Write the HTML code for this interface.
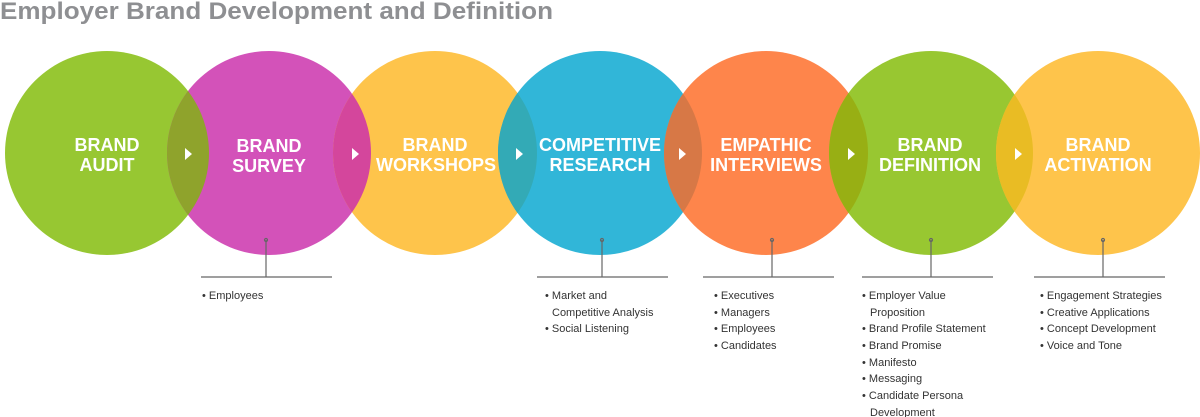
<!DOCTYPE html>
<html><head><meta charset="utf-8"><style>
html,body{margin:0;padding:0;background:#fff;width:1200px;height:417px;overflow:hidden}
svg{display:block}
.h{font-family:"Liberation Sans",sans-serif;font-weight:bold;font-size:18px;fill:#fff;text-anchor:middle}
.b{font-family:"Liberation Sans",sans-serif;font-size:11px;fill:#333}
</style></head><body>
<svg width="1200" height="417" viewBox="0 0 1200 417" xmlns="http://www.w3.org/2000/svg">
<text x="0" y="19" font-family="Liberation Sans,sans-serif" font-weight="bold" font-size="24" fill="#8e8f92" textLength="553" lengthAdjust="spacingAndGlyphs">Employer Brand Development and Definition</text>
<defs>
<clipPath id="c1"><circle cx="107" cy="153" r="102"/></clipPath>
<clipPath id="c2"><circle cx="269" cy="153" r="102"/></clipPath>
<clipPath id="c3"><circle cx="435" cy="153" r="102"/></clipPath>
<clipPath id="c4"><circle cx="600" cy="153" r="102"/></clipPath>
<clipPath id="c5"><circle cx="766" cy="153" r="102"/></clipPath>
<clipPath id="c6"><circle cx="931" cy="153" r="102"/></clipPath>
</defs>
<circle cx="107" cy="153" r="102" fill="#97c732"/>
<circle cx="269" cy="153" r="102" fill="#d352b9"/>
<circle cx="435" cy="153" r="102" fill="#fec44b"/>
<circle cx="600" cy="153" r="102" fill="#31b6d8"/>
<circle cx="766" cy="153" r="102" fill="#fe854b"/>
<circle cx="931" cy="153" r="102" fill="#98c731"/>
<circle cx="1098" cy="153" r="102" fill="#fec44b"/>
<circle cx="269" cy="153" r="102" fill="#8fa32c" clip-path="url(#c1)"/>
<circle cx="435" cy="153" r="102" fill="#d4469c" clip-path="url(#c2)"/>
<circle cx="600" cy="153" r="102" fill="#33aab6" clip-path="url(#c3)"/>
<circle cx="766" cy="153" r="102" fill="#d77846" clip-path="url(#c4)"/>
<circle cx="931" cy="153" r="102" fill="#98af14" clip-path="url(#c5)"/>
<circle cx="1098" cy="153" r="102" fill="#e9bc24" clip-path="url(#c6)"/>
<g fill="#fff">
<polygon points="185,148 192,154 185,160"/>
<polygon points="352,148 359,154 352,160"/>
<polygon points="516,148 523,154 516,160"/>
<polygon points="679,148 686,154 679,160"/>
<polygon points="848,148 855,154 848,160"/>
<polygon points="1015,148 1022,154 1015,160"/>
</g>
<text class="h" x="107" y="151">BRAND</text><text class="h" x="107" y="171">AUDIT</text>
<text class="h" x="269" y="152">BRAND</text><text class="h" x="269" y="172">SURVEY</text>
<text class="h" x="435" y="151">BRAND</text><text class="h" x="436" y="171">WORKSHOPS</text>
<text class="h" x="600" y="151">COMPETITIVE</text><text class="h" x="600" y="171">RESEARCH</text>
<text class="h" x="766" y="151">EMPATHIC</text><text class="h" x="766" y="171">INTERVIEWS</text>
<text class="h" x="930" y="151">BRAND</text><text class="h" x="930" y="171">DEFINITION</text>
<text class="h" x="1098" y="151">BRAND</text><text class="h" x="1098" y="171">ACTIVATION</text>
<g stroke="#666" stroke-width="1.2" fill="none">
<path d="M266 240V277M201 277H332"/><circle cx="266" cy="240" r="1.5"/>
<path d="M602 240V277M537 277H668"/><circle cx="602" cy="240" r="1.5"/>
<path d="M772 240V277M703 277H834"/><circle cx="772" cy="240" r="1.5"/>
<path d="M931 240V277M862 277H993"/><circle cx="931" cy="240" r="1.5"/>
<path d="M1103 240V277M1034 277H1165"/><circle cx="1103" cy="240" r="1.5"/>
</g>
<g class="b">
<text x="202" y="299">• Employees</text>
<text x="545" y="299">• Market and</text>
<text x="552" y="316">Competitive Analysis</text>
<text x="545" y="332">• Social Listening</text>
<text x="714" y="299">• Executives</text>
<text x="714" y="316">• Managers</text>
<text x="714" y="332">• Employees</text>
<text x="714" y="349">• Candidates</text>
<text x="862" y="299">• Employer Value</text>
<text x="870" y="316">Proposition</text>
<text x="862" y="332">• Brand Profile Statement</text>
<text x="862" y="349">• Brand Promise</text>
<text x="862" y="366">• Manifesto</text>
<text x="862" y="382">• Messaging</text>
<text x="862" y="399">• Candidate Persona</text>
<text x="870" y="416">Development</text>
<text x="1040" y="299">• Engagement Strategies</text>
<text x="1040" y="316">• Creative Applications</text>
<text x="1040" y="332">• Concept Development</text>
<text x="1040" y="349">• Voice and Tone</text>
</g>
</svg>
</body></html>
